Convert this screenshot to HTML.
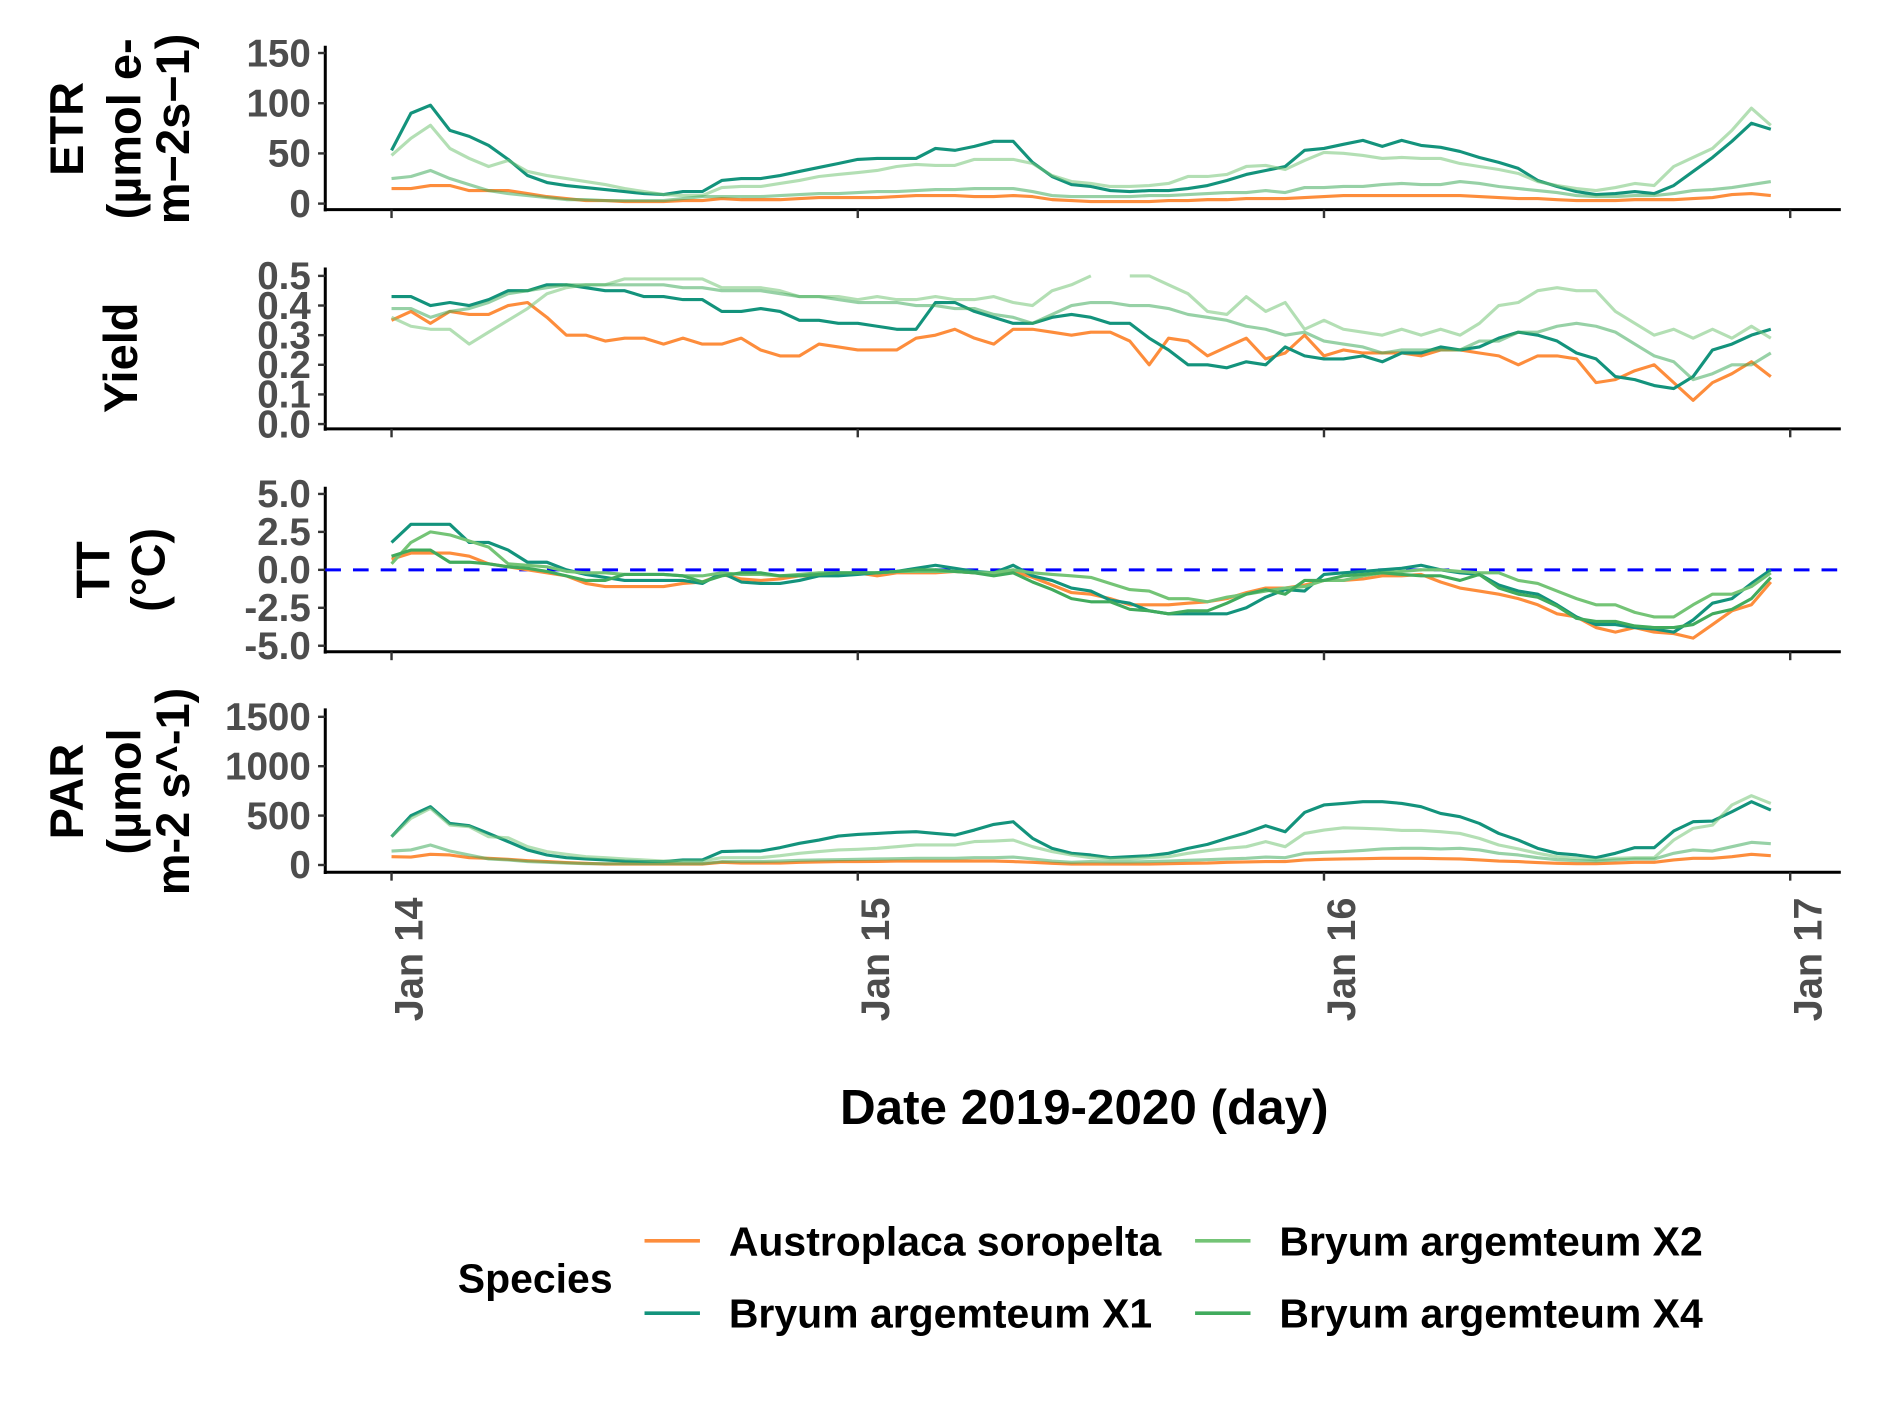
<!DOCTYPE html>
<html><head><meta charset="utf-8"><style>
html,body{margin:0;padding:0;background:#fff;}
svg{display:block;}
text{font-family:"Liberation Sans",sans-serif;font-weight:bold;}
.tk{fill:#4d4d4d;font-size:32px;}
.ttl{fill:#000;font-size:39px;}
</style></head><body>
<svg id="chart" width="1889" height="1417" viewBox="0 0 1568 1176.2" xmlns="http://www.w3.org/2000/svg"></svg>
<script>
// ---- data ----
const hours = Array.from({length:72},(_, i)=>i);
const dayTicks = ["Jan 14","Jan 15","Jan 16","Jan 17"];
const speciesNames = ["Austroplaca soropelta","Bryum argemteum X1","Bryum argemteum X2","Bryum argemteum X4"];

const etrA = [15,15,18,18,13,13,13,10,7,5,3,3,2,2,2,3,3,5,4,4,4,5,6,6,6,6,7,8,8,8,7,7,8,7,4,3,2,2,2,2,3,3,4,4,5,5,5,6,7,8,8,8,8,8,8,8,7,6,5,5,4,3,3,3,4,4,4,5,6,9,10,8];
const etrX1 = [53,90,98,73,67,58,44,28,21,18,16,14,12,10,9,12,12,23,25,25,28,32,36,40,44,45,45,45,55,53,57,62,62,41,27,19,17,13,12,13,13,15,18,23,29,33,37,53,55,59,63,57,63,58,56,52,46,41,35,23,17,12,9,10,12,10,18,32,46,62,80,74];
const etrX2 = [48,65,78,55,45,37,43,32,28,25,22,19,15,12,9,8,8,16,17,17,20,23,27,29,31,33,37,39,38,38,44,44,44,40,28,22,20,17,17,18,20,27,27,29,37,38,34,43,51,50,48,45,46,45,45,40,37,34,30,22,18,15,13,16,20,18,37,46,55,73,95,78];
const etrX4 = [25,27,33,25,19,13,10,8,6,4,4,3,3,3,3,5,7,7,7,7,8,9,10,10,11,12,12,13,14,14,15,15,15,12,8,7,7,7,7,8,8,9,10,11,11,13,11,16,16,17,17,19,20,19,19,22,20,17,15,13,11,8,7,7,8,8,10,13,14,16,19,22];

const yA = [.35,.38,.34,.38,.37,.37,.40,.41,.36,.30,.30,.28,.29,.29,.27,.29,.27,.27,.29,.25,.23,.23,.27,.26,.25,.25,.25,.29,.30,.32,.29,.27,.32,.32,.31,.30,.31,.31,.28,.20,.29,.28,.23,.26,.29,.22,.24,.30,.23,.25,.24,.24,.24,.23,.25,.25,.24,.23,.20,.23,.23,.22,.14,.15,.18,.20,.14,.08,.14,.17,.21,.16];
const yX1 = [.43,.43,.40,.41,.40,.42,.45,.45,.47,.47,.46,.45,.45,.43,.43,.42,.42,.38,.38,.39,.38,.35,.35,.34,.34,.33,.32,.32,.41,.41,.38,.36,.34,.34,.36,.37,.36,.34,.34,.29,.25,.20,.20,.19,.21,.20,.26,.23,.22,.22,.23,.21,.24,.24,.26,.25,.26,.29,.31,.30,.28,.24,.22,.16,.15,.13,.12,.16,.25,.27,.30,.32];
const yX2 = [.36,.33,.32,.32,.27,.31,.35,.39,.44,.46,.47,.47,.49,.49,.49,.49,.49,.46,.46,.46,.45,.43,.43,.43,.42,.43,.42,.42,.43,.42,.42,.43,.41,.40,.45,.47,.50,null,.50,.50,.47,.44,.38,.37,.43,.38,.41,.32,.35,.32,.31,.30,.32,.30,.32,.30,.34,.40,.41,.45,.46,.45,.45,.38,.34,.30,.32,.29,.32,.29,.33,.29];
const yX4 = [.39,.39,.36,.38,.39,.41,.44,.45,.46,.47,.47,.47,.47,.47,.47,.46,.46,.45,.45,.45,.44,.43,.43,.42,.41,.41,.41,.40,.40,.39,.39,.37,.36,.34,.37,.40,.41,.41,.40,.40,.39,.37,.36,.35,.33,.32,.30,.31,.28,.27,.26,.24,.25,.25,.25,.25,.28,.28,.31,.31,.33,.34,.33,.31,.27,.23,.21,.15,.17,.20,.20,.24];

const tA = [0.7,1.1,1.1,1.1,0.9,0.4,0.2,0,-0.2,-0.4,-0.9,-1.1,-1.1,-1.1,-1.1,-0.9,-0.8,-0.3,-0.6,-0.7,-0.6,-0.4,-0.4,-0.3,-0.2,-0.4,-0.2,-0.2,-0.2,-0.1,-0.2,-0.3,-0.1,-0.5,-1.0,-1.5,-1.6,-1.9,-2.3,-2.3,-2.3,-2.2,-2.1,-1.9,-1.5,-1.2,-1.2,-1.0,-0.7,-0.7,-0.6,-0.4,-0.4,-0.3,-0.8,-1.2,-1.4,-1.6,-1.9,-2.3,-2.9,-3.1,-3.8,-4.1,-3.8,-4.1,-4.2,-4.5,-3.6,-2.7,-2.3,-0.8];
const tX1 = [1.8,3.0,3.0,3.0,1.8,1.8,1.3,0.5,0.5,0,-0.3,-0.5,-0.7,-0.7,-0.7,-0.7,-0.9,-0.2,-0.8,-0.9,-0.9,-0.7,-0.4,-0.4,-0.3,-0.2,-0.1,0.1,0.3,0.1,-0.1,-0.2,0.3,-0.4,-0.7,-1.2,-1.4,-2.0,-2.2,-2.7,-2.9,-2.9,-2.9,-2.9,-2.5,-1.8,-1.3,-1.4,-0.3,-0.2,-0.1,0,0.1,0.3,0,-0.2,-0.3,-1.0,-1.4,-1.6,-2.3,-3.1,-3.6,-3.6,-3.8,-3.9,-4.1,-3.3,-2.2,-1.9,-0.9,0];
const tX2 = [0.4,1.8,2.5,2.3,1.9,1.5,0.4,0.3,0.2,-0.1,-0.2,-0.2,-0.3,-0.3,-0.3,-0.4,-0.4,-0.2,-0.3,-0.3,-0.4,-0.3,-0.2,-0.2,-0.2,-0.2,-0.1,-0.1,-0.1,-0.1,-0.2,-0.2,0,-0.2,-0.3,-0.4,-0.5,-0.9,-1.3,-1.4,-1.9,-1.9,-2.1,-1.8,-1.6,-1.4,-1.2,-1.1,-0.7,-0.7,-0.4,-0.2,-0.1,0,0,-0.1,-0.2,-0.2,-0.7,-0.9,-1.4,-1.9,-2.3,-2.3,-2.8,-3.1,-3.1,-2.3,-1.6,-1.6,-1.1,-0.2];
const tX4 = [0.9,1.3,1.3,0.5,0.5,0.4,0.2,0.1,-0.1,-0.4,-0.7,-0.7,-0.3,-0.3,-0.3,-0.4,-0.8,-0.4,-0.2,-0.2,-0.4,-0.4,-0.3,-0.2,-0.2,-0.2,-0.1,0,0,-0.1,-0.2,-0.4,-0.2,-0.8,-1.3,-1.9,-2.1,-2.1,-2.6,-2.7,-2.9,-2.7,-2.7,-2.2,-1.6,-1.3,-1.6,-0.7,-0.7,-0.4,-0.3,-0.2,-0.3,-0.4,-0.4,-0.7,-0.3,-1.2,-1.6,-1.8,-2.4,-3.2,-3.4,-3.4,-3.7,-3.8,-3.8,-3.6,-2.9,-2.6,-1.9,-0.5];

const pA = [84,81,108,101,74,67,57,44,34,24,17,10,10,10,10,10,10,27,20,20,20,27,30,34,34,37,40,40,40,40,40,40,34,27,17,10,10,10,10,10,13,17,20,27,30,34,34,51,57,61,64,67,67,67,64,61,51,40,34,24,17,13,13,20,27,27,51,67,67,84,108,94];
const pX1 = [286,499,590,421,398,320,236,152,101,74,61,51,40,34,34,51,51,135,142,142,175,219,253,293,310,320,330,337,320,303,354,411,438,270,168,118,101,74,84,94,118,168,209,270,327,398,337,532,607,623,640,640,623,590,522,489,421,320,253,168,118,101,74,118,175,175,344,438,445,539,640,556];
const pX2 = [286,472,573,404,388,286,276,185,135,108,84,74,61,51,40,40,40,74,74,74,94,118,135,152,158,168,185,202,202,202,236,243,253,185,135,101,74,61,61,74,84,118,145,168,185,236,185,320,354,377,371,364,350,350,337,320,270,202,162,118,84,67,51,67,74,74,253,371,404,607,701,623];
const pX4 = [142,152,202,142,101,61,51,34,27,20,13,13,13,13,13,13,13,34,34,34,40,47,51,54,57,61,64,67,67,67,74,74,81,61,40,27,34,30,30,34,40,47,54,61,67,81,74,118,128,135,148,162,168,168,162,168,152,118,101,74,54,44,40,51,61,61,118,152,142,185,229,216];

// ---- layout ----
const NS = "http://www.w3.org/2000/svg";
const svg = document.getElementById("chart");
const X0 = 325, PX_PER_H = 387/24;
const xScale = h => X0 + h*PX_PER_H;
const colors = ["#FD8D3C","#13937C","#74C476","#41AB5D"];

function el(tag, attrs, parent){
  const e = document.createElementNS(NS, tag);
  for (const k in attrs) e.setAttribute(k, attrs[k]);
  (parent||svg).appendChild(e);
  return e;
}

const panels = [
  {key:"etr", series:[etrA,etrX1,etrX2,etrX4], ticks:[0,50,100,150], labels:["0","50","100","150"], y0:169, k:125/150, top:38, bottom:174, fade:true,
   title:["ETR","(µmol e-","m−2s−1)"], tx:[55,103,143], ty:107},
  {key:"yield", series:[yA,yX1,yX2,yX4], ticks:[0,.1,.2,.3,.4,.5], labels:["0.0","0.1","0.2","0.3","0.4","0.5"], y0:352, k:246, top:222, bottom:356, fade:true,
   title:["Yield"], tx:[100], ty:297},
  {key:"tt", series:[tA,tX1,tX2,tX4], ticks:[-5,-2.5,0,2.5,5], labels:["-5.0","-2.5","0.0","2.5","5.0"], y0:473, k:12.6, top:404, bottom:541, fade:false,
   title:["TT","(°C)"], tx:[77,123], ty:473},
  {key:"par", series:[pA,pX1,pX2,pX4], ticks:[0,500,1000,1500], labels:["0","500","1000","1500"], y0:718, k:123/1500, top:588, bottom:724, fade:true,
   title:["PAR","(µmol","m-2 s^-1)"], tx:[55,103,143], ty:657}
];

panels.forEach(p=>{
  const g = el("g",{});
  
  
  const yS = v => p.y0 - v*p.k;
  const ya = el("line",{x1:270,y1:p.top,x2:270,y2:p.bottom+1.5,stroke:"#000","stroke-width":2.5},g);
  
  
  const xa = el("line",{x1:268.8,y1:p.bottom,x2:1528,y2:p.bottom,stroke:"#000","stroke-width":2.5},g);
  
  
  p.ticks.forEach((t,i)=>{
    const y = yS(t);
    el("line",{x1:264,y1:y,x2:270,y2:y,stroke:"#333","stroke-width":2},g);
    const tl = el("text",{x:258,y:y+11,"text-anchor":"end",class:"tk"},g);
    tl.textContent = p.labels[i];
    
    
  });
  dayTicks.forEach((d,i)=>{
    const x = xScale(i*24);
    el("line",{x1:x,y1:p.bottom,x2:x,y2:p.bottom+7,stroke:"#333","stroke-width":2},g);
  });
  if (p.key==="tt"){
    const ref = el("line",{x1:270,y1:yS(0),x2:1528,y2:yS(0),stroke:"#0000FF","stroke-width":2.5,"stroke-dasharray":"13,10"},g);
    
    
  }
  p.series.forEach((arr,si)=>{
    let d = "", pen = false;
    arr.forEach((v,i)=>{
      if (v===null){ pen=false; return; }
      d += (pen?"L":"M") + xScale(hours[i]).toFixed(1) + "," + yS(v).toFixed(1);
      pen = true;
    });
    const op = (p.fade && si>=2) ? 0.55 : 1;
    const path = el("path",{d:d,fill:"none",stroke:colors[si],"stroke-width":2.6,"stroke-linejoin":"round","stroke-opacity":op},g);
    
    
  });
  p.title.forEach((t,i)=>{
    const tt = el("text",{x:0,y:0,"text-anchor":"middle","dominant-baseline":"central",class:"ttl",transform:`translate(${p.tx[i]},${p.ty}) rotate(-90)`},g);
    tt.textContent = t;
    
    
  });
});

dayTicks.forEach((d,i)=>{
  const x = xScale(i*24);
  const t = el("text",{x:0,y:0,"text-anchor":"end","dominant-baseline":"central",class:"tk",style:"font-size:33px",transform:`translate(${x+15},745) rotate(-90)`});
  t.textContent = d;
  
  
});

const xt = el("text",{x:900,y:933,"text-anchor":"middle",style:"font-size:41px;fill:#000"});
xt.textContent = "Date 2019-2020 (day)";



const lg = el("g",{});


const lt = el("text",{x:380,y:1073,style:"font-size:34px;fill:#000"},lg);
lt.textContent = "Species";


const legPos = [[535,1030],[535,1090],[992,1030],[992,1090]];
speciesNames.forEach((n,i)=>{
  const [x,y] = legPos[i];
  const ln = el("line",{x1:x,y1:y,x2:x+46,y2:y,stroke:colors[i],"stroke-width":3},lg);
  
  
  const tx = el("text",{x:x+70,y:y+12,style:"font-size:34px;fill:#000"},lg);
  tx.textContent = n;
  
  
});
</script>
</body></html>
